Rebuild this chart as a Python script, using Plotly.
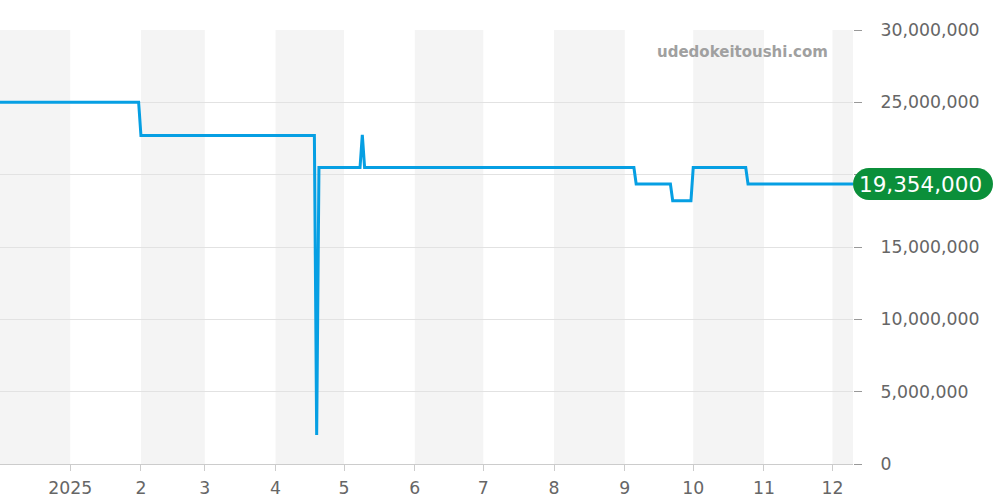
import plotly.graph_objects as go

# price history (change points)
dates = ["2024-12-01", "2025-01-31", "2025-02-01", "2025-04-18", "2025-04-19",
         "2025-04-20", "2025-05-08", "2025-05-09", "2025-05-10", "2025-09-05",
         "2025-09-06", "2025-09-21", "2025-09-22", "2025-09-30", "2025-10-01",
         "2025-10-24", "2025-10-25", "2025-12-10"]
prices = [25000000, 25000000, 22700000, 22700000, 2000000,
          20500000, 20500000, 22750000, 20500000, 20500000,
          19354000, 19354000, 18200000, 18200000, 20500000,
          20500000, 19354000, 19354000]

latest_price = 19354000
latest_label = "19,354,000"

tick_dates = ["2025-01-01", "2025-02-01", "2025-03-01", "2025-04-01", "2025-05-01",
              "2025-06-01", "2025-07-01", "2025-08-01", "2025-09-01", "2025-10-01",
              "2025-11-01", "2025-12-01"]
tick_text = ["2025", "2", "3", "4", "5", "6", "7", "8", "9", "10", "11", "12"]

# shaded months (every other month)
band_starts = ["2024-12-01", "2025-02-01", "2025-04-01", "2025-06-01", "2025-08-01",
               "2025-10-01", "2025-12-01"]
band_ends = ["2025-01-01", "2025-03-01", "2025-05-01", "2025-07-01", "2025-09-01",
             "2025-11-01", "2026-01-01"]

y_ticks = [0, 5000000, 10000000, 15000000, 20000000, 25000000, 30000000]
y_text = ["0", "5,000,000", "10,000,000", "15,000,000", "20,000,000",
          "25,000,000", "30,000,000"]

font_family = "DejaVu Sans"

fig = go.Figure()
fig.add_trace(go.Scatter(x=dates, y=prices, mode='lines',
                         line=dict(color='#069fe3', width=3),
                         hoverinfo='x+y', showlegend=False))

for s, e in zip(band_starts, band_ends):
    fig.add_shape(type='rect', xref='x', yref='paper', x0=s, x1=e, y0=0, y1=1,
                  fillcolor='#f4f4f4', line=dict(width=0), layer='below')

# badge for the latest price
fig.add_shape(type='path', xref='paper', yref='y', xsizemode='pixel', ysizemode='pixel',
              xanchor=1, yanchor=latest_price,
              path=("M 16,-16 L 124,-16 C 132.8,-16 140,-8.8 140,0 "
                    "C 140,8.8 132.8,16 124,16 L 16,16 C 7.2,16 0,8.8 0,0 "
                    "C 0,-8.8 7.2,-16 16,-16 Z"),
              fillcolor='#0b8f3a', line=dict(width=0), layer='above')
fig.add_annotation(xref='paper', yref='y', x=1, y=latest_price, xanchor='left',
                   xshift=4, text=latest_label, showarrow=False,
                   font=dict(family=font_family, size=21.5, color='white'))

fig.add_annotation(xref='paper', yref='paper', x=830 / 853, y=1 - 22 / 434,
                   xanchor='right', yanchor='middle', text="<b>udedokeitoushi.com</b>",
                   showarrow=False, font=dict(family=font_family, size=15, color='#a0a0a0'))

fig.update_layout(
    width=1000, height=500,
    margin=dict(l=0, r=147, t=30, b=36),
    plot_bgcolor='white', paper_bgcolor='white',
    font=dict(family=font_family, size=17.3, color='#666666'),
    xaxis=dict(range=["2024-12-01 06:00", "2025-12-10"], tickvals=tick_dates,
               ticktext=tick_text, showgrid=False, showline=True, linecolor='#cccccc',
               ticks='outside', ticklen=6, tickcolor='#cccccc', zeroline=False,
               ticklabelstandoff=2, automargin=False),
    yaxis=dict(range=[0, 30000000], side='right', tickvals=y_ticks, ticktext=y_text,
               showgrid=True, gridcolor='#e2e2e2', zeroline=False, showline=False,
               ticks='outside', ticklen=8, tickcolor='#999999',
               ticklabelstandoff=15, automargin=False),
)

# drop the page's default body margin so the figure sits at the window corner
fig.write_html("out.html", config={'displayModeBar': False},
               post_script="document.body.style.margin = '0';")
